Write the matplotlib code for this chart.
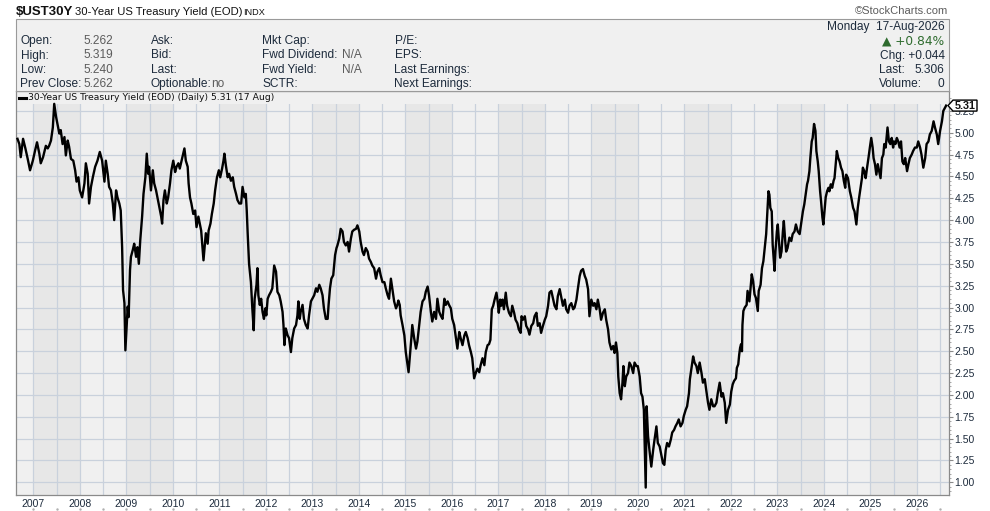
import matplotlib.pyplot as plt
from matplotlib.patches import Rectangle, Polygon
from matplotlib.lines import Line2D
from matplotlib.transforms import IdentityTransform
import numpy as np

# 30-year treasury yield (decimal year, yield %)
dates = [
    2006.66, 2006.70, 2006.73, 2006.78, 2006.83, 2006.88, 2006.93, 2006.99, 2007.04, 2007.08,
    2007.13, 2007.16, 2007.21, 2007.27, 2007.31, 2007.34, 2007.38, 2007.42, 2007.45, 2007.49,
    2007.52, 2007.56, 2007.59, 2007.63, 2007.67, 2007.70, 2007.74, 2007.77, 2007.81, 2007.86,
    2007.90, 2007.93, 2007.97, 2008.00, 2008.05, 2008.10, 2008.13, 2008.17, 2008.20, 2008.24,
    2008.28, 2008.33, 2008.38, 2008.43, 2008.48, 2008.51, 2008.53, 2008.56, 2008.60, 2008.63,
    2008.67, 2008.71, 2008.74, 2008.78, 2008.81, 2008.85, 2008.88, 2008.91, 2008.93, 2008.96,
    2008.98, 2009.01, 2009.03, 2009.05, 2009.08, 2009.10, 2009.14, 2009.17, 2009.21, 2009.24,
    2009.27, 2009.30, 2009.34, 2009.37, 2009.41, 2009.44, 2009.47, 2009.49, 2009.53, 2009.57,
    2009.60, 2009.64, 2009.67, 2009.71, 2009.75, 2009.77, 2009.80, 2009.83, 2009.87, 2009.90,
    2009.94, 2009.97, 2010.01, 2010.05, 2010.08, 2010.12, 2010.15, 2010.19, 2010.25, 2010.28,
    2010.32, 2010.34, 2010.37, 2010.40, 2010.44, 2010.48, 2010.51, 2010.55, 2010.58, 2010.61,
    2010.66, 2010.68, 2010.71, 2010.75, 2010.77, 2010.81, 2010.84, 2010.88, 2010.91, 2010.95,
    2010.99, 2011.02, 2011.06, 2011.09, 2011.11, 2011.14, 2011.18, 2011.21, 2011.25, 2011.29,
    2011.32, 2011.36, 2011.39, 2011.43, 2011.47, 2011.50, 2011.54, 2011.57, 2011.59, 2011.61,
    2011.64, 2011.68, 2011.71, 2011.74, 2011.76, 2011.80, 2011.82, 2011.84, 2011.87, 2011.90,
    2011.93, 2011.96, 2011.99, 2012.01, 2012.04, 2012.07, 2012.11, 2012.14, 2012.18, 2012.22,
    2012.25, 2012.29, 2012.32, 2012.36, 2012.38, 2012.40, 2012.43, 2012.47, 2012.50, 2012.54,
    2012.57, 2012.61, 2012.65, 2012.68, 2012.70, 2012.73, 2012.75, 2012.79, 2012.82, 2012.86,
    2012.90, 2012.93, 2012.97, 2013.00, 2013.04, 2013.08, 2013.11, 2013.15, 2013.18, 2013.22,
    2013.25, 2013.29, 2013.33, 2013.35, 2013.38, 2013.41, 2013.45, 2013.47, 2013.49, 2013.52,
    2013.54, 2013.58, 2013.61, 2013.65, 2013.68, 2013.72, 2013.76, 2013.79, 2013.83, 2013.86,
    2013.90, 2013.94, 2013.97, 2014.01, 2014.04, 2014.08, 2014.11, 2014.15, 2014.19, 2014.22,
    2014.26, 2014.29, 2014.33, 2014.37, 2014.40, 2014.44, 2014.47, 2014.51, 2014.55, 2014.58,
    2014.62, 2014.65, 2014.69, 2014.72, 2014.76, 2014.80, 2014.83, 2014.85, 2014.88, 2014.90,
    2014.94, 2014.98, 2015.01, 2015.05, 2015.07, 2015.10, 2015.13, 2015.15, 2015.19, 2015.23,
    2015.26, 2015.30, 2015.33, 2015.37, 2015.41, 2015.44, 2015.48, 2015.51, 2015.55, 2015.58,
    2015.62, 2015.66, 2015.69, 2015.73, 2015.76, 2015.80, 2015.84, 2015.87, 2015.91, 2015.94,
    2015.98, 2016.01, 2016.05, 2016.09, 2016.12, 2016.16, 2016.19, 2016.23, 2016.27, 2016.30,
    2016.34, 2016.37, 2016.41, 2016.44, 2016.48, 2016.52, 2016.55, 2016.59, 2016.62, 2016.66,
    2016.70, 2016.73, 2016.77, 2016.80, 2016.83, 2016.86, 2016.89, 2016.92, 2016.96, 2016.99,
    2017.01, 2017.04, 2017.06, 2017.09, 2017.12, 2017.16, 2017.19, 2017.23, 2017.27, 2017.30,
    2017.34, 2017.37, 2017.41, 2017.44, 2017.48, 2017.50, 2017.53, 2017.57, 2017.60, 2017.64,
    2017.67, 2017.71, 2017.75, 2017.78, 2017.82, 2017.85, 2017.89, 2017.92, 2017.96, 2018.00,
    2018.03, 2018.07, 2018.10, 2018.14, 2018.18, 2018.21, 2018.25, 2018.28, 2018.32, 2018.35,
    2018.39, 2018.43, 2018.46, 2018.50, 2018.53, 2018.57, 2018.61, 2018.64, 2018.68, 2018.71,
    2018.75, 2018.78, 2018.82, 2018.86, 2018.89, 2018.93, 2018.96, 2019.00, 2019.04, 2019.07,
    2019.11, 2019.14, 2019.18, 2019.21, 2019.25, 2019.29, 2019.32, 2019.36, 2019.39, 2019.43,
    2019.47, 2019.50, 2019.53, 2019.56, 2019.58, 2019.61, 2019.64, 2019.67, 2019.69, 2019.72,
    2019.75, 2019.79, 2019.82, 2019.86, 2019.90, 2019.93, 2019.97, 2020.00, 2020.04, 2020.07,
    2020.10, 2020.13, 2020.15, 2020.17, 2020.19, 2020.22, 2020.25, 2020.29, 2020.33, 2020.36,
    2020.40, 2020.43, 2020.47, 2020.51, 2020.54, 2020.57, 2020.60, 2020.63, 2020.67, 2020.71,
    2020.74, 2020.78, 2020.81, 2020.85, 2020.88, 2020.92, 2020.96, 2020.99, 2021.03, 2021.06,
    2021.10, 2021.12, 2021.15, 2021.19, 2021.22, 2021.26, 2021.29, 2021.33, 2021.37, 2021.40,
    2021.44, 2021.47, 2021.51, 2021.54, 2021.58, 2021.62, 2021.65, 2021.69, 2021.72, 2021.76,
    2021.80, 2021.83, 2021.87, 2021.90, 2021.94, 2021.98, 2022.01, 2022.04, 2022.07, 2022.11,
    2022.13, 2022.16, 2022.18, 2022.20, 2022.22, 2022.24, 2022.25, 2022.27, 2022.30, 2022.34,
    2022.36, 2022.40, 2022.43, 2022.45, 2022.48, 2022.51, 2022.54, 2022.58, 2022.60, 2022.64,
    2022.67, 2022.70, 2022.73, 2022.76, 2022.78, 2022.81, 2022.83, 2022.85, 2022.88, 2022.90,
    2022.92, 2022.94, 2022.96, 2022.99, 2023.01, 2023.03, 2023.06, 2023.09, 2023.12, 2023.14,
    2023.17, 2023.19, 2023.22, 2023.26, 2023.30, 2023.33, 2023.37, 2023.40, 2023.44, 2023.48,
    2023.51, 2023.55, 2023.58, 2023.62, 2023.64, 2023.66, 2023.69, 2023.71, 2023.74, 2023.76,
    2023.79, 2023.82, 2023.84, 2023.87, 2023.89, 2023.92, 2023.94, 2023.97, 2023.99, 2024.02,
    2024.04, 2024.07, 2024.10, 2024.12, 2024.15, 2024.18, 2024.21, 2024.23, 2024.25, 2024.28,
    2024.31, 2024.34, 2024.37, 2024.40, 2024.43, 2024.46, 2024.48, 2024.52, 2024.56, 2024.59,
    2024.63, 2024.66, 2024.70, 2024.73, 2024.76, 2024.79, 2024.82, 2024.84, 2024.87, 2024.90,
    2024.93, 2024.96, 2024.99, 2025.02, 2025.05, 2025.07, 2025.10, 2025.13, 2025.16, 2025.19,
    2025.22, 2025.25, 2025.28, 2025.30, 2025.33, 2025.37, 2025.40, 2025.43, 2025.46, 2025.49,
    2025.51, 2025.54, 2025.57, 2025.60, 2025.63, 2025.66, 2025.69, 2025.72, 2025.75, 2025.79,
    2025.82, 2025.85, 2025.89, 2025.92, 2025.96, 2026.00, 2026.03, 2026.07, 2026.10, 2026.14,
    2026.18, 2026.21, 2026.25, 2026.28, 2026.32, 2026.36, 2026.39, 2026.43, 2026.46, 2026.50,
    2026.54, 2026.57, 2026.61, 2026.63,
]
yields = [
    4.93, 4.87, 4.72, 4.93, 4.82, 4.70, 4.57, 4.68, 4.80, 4.89,
    4.76, 4.65, 4.72, 4.85, 4.82, 4.85, 4.91, 5.06, 5.33, 5.18,
    5.10, 4.99, 5.03, 4.87, 4.95, 4.74, 4.91, 4.84, 4.70, 4.68,
    4.57, 4.44, 4.49, 4.34, 4.26, 4.42, 4.65, 4.53, 4.19, 4.38,
    4.49, 4.61, 4.68, 4.78, 4.68, 4.53, 4.44, 4.68, 4.53, 4.38,
    4.34, 4.19, 4.00, 4.34, 4.26, 4.19, 4.11, 3.69, 3.20, 3.05,
    2.51, 2.82, 3.01, 2.89, 3.43, 3.58, 3.66, 3.73, 3.58, 3.69,
    3.50, 3.77, 4.04, 4.30, 4.49, 4.76, 4.53, 4.61, 4.34, 4.57,
    4.42, 4.34, 4.26, 4.15, 4.04, 3.96, 4.23, 4.34, 4.19, 4.26,
    4.42, 4.57, 4.68, 4.55, 4.61, 4.65, 4.59, 4.68, 4.82, 4.68,
    4.61, 4.42, 4.26, 4.19, 4.07, 4.11, 3.92, 4.04, 3.96, 3.88,
    3.54, 3.66, 3.85, 3.73, 3.88, 3.96, 4.07, 4.19, 4.34, 4.49,
    4.57, 4.49, 4.59, 4.68, 4.76, 4.63, 4.49, 4.53, 4.45, 4.49,
    4.38, 4.30, 4.23, 4.19, 4.19, 4.38, 4.26, 4.30, 4.11, 3.85,
    3.50, 3.29, 2.99, 2.74, 3.10, 3.26, 3.45, 3.14, 3.03, 3.10,
    2.95, 2.87, 2.99, 2.91, 3.10, 3.14, 3.18, 3.22, 3.48, 3.41,
    3.18, 3.14, 3.07, 2.95, 2.80, 2.57, 2.76, 2.68, 2.65, 2.49,
    2.65, 2.76, 2.80, 2.91, 3.07, 2.87, 2.95, 3.03, 2.87, 2.80,
    2.76, 2.91, 3.07, 3.10, 3.14, 3.22, 3.18, 3.26, 3.22, 3.14,
    2.99, 2.87, 2.87, 3.03, 3.22, 3.33, 3.37, 3.48, 3.60, 3.68,
    3.71, 3.79, 3.90, 3.87, 3.75, 3.71, 3.75, 3.64, 3.79, 3.87,
    3.89, 3.90, 3.94, 3.87, 3.75, 3.64, 3.60, 3.68, 3.64, 3.56,
    3.52, 3.48, 3.45, 3.33, 3.41, 3.45, 3.37, 3.29, 3.29, 3.22,
    3.14, 3.10, 3.33, 3.22, 3.07, 2.99, 3.03, 3.08, 3.03, 2.91,
    2.80, 2.68, 2.49, 2.34, 2.26, 2.45, 2.65, 2.80, 2.65, 2.53,
    2.61, 2.80, 2.95, 3.07, 3.10, 3.18, 3.24, 3.14, 2.95, 2.84,
    2.95, 2.87, 3.10, 2.95, 2.91, 2.87, 3.10, 3.03, 3.07, 3.03,
    2.99, 2.87, 2.80, 2.65, 2.53, 2.72, 2.65, 2.57, 2.68, 2.72,
    2.65, 2.57, 2.49, 2.42, 2.19, 2.26, 2.30, 2.26, 2.34, 2.42,
    2.34, 2.49, 2.57, 2.58, 2.63, 2.98, 3.02, 3.09, 3.17, 3.05,
    2.94, 3.09, 3.02, 3.09, 2.98, 3.17, 3.02, 2.94, 2.90, 3.02,
    2.94, 2.86, 2.82, 2.75, 2.71, 2.90, 2.86, 2.90, 2.79, 2.75,
    2.69, 2.79, 2.82, 2.90, 2.94, 2.79, 2.82, 2.71, 2.79, 2.86,
    2.90, 3.02, 3.17, 3.19, 3.09, 3.02, 2.98, 3.13, 3.21, 3.13,
    3.02, 3.09, 2.98, 2.94, 3.02, 3.05, 2.98, 3.00, 3.09, 3.21,
    3.36, 3.42, 3.44, 3.36, 3.32, 3.21, 2.90, 3.09, 3.02, 3.05,
    2.98, 3.09, 2.98, 2.86, 2.94, 2.98, 2.86, 2.75, 2.60, 2.52,
    2.56, 2.48, 2.60, 2.48, 2.21, 2.02, 1.95, 2.14, 2.33, 2.10,
    2.21, 2.25, 2.37, 2.33, 2.25, 2.37, 2.33, 2.33, 2.21, 2.02,
    1.98, 1.83, 1.37, 0.94, 1.87, 1.53, 1.37, 1.18, 1.37, 1.49,
    1.64, 1.45, 1.41, 1.30, 1.22, 1.20, 1.37, 1.45, 1.41, 1.49,
    1.57, 1.60, 1.64, 1.68, 1.72, 1.64, 1.68, 1.76, 1.83, 1.87,
    2.02, 2.18, 2.29, 2.44, 2.37, 2.33, 2.25, 2.37, 2.25, 2.14,
    2.18, 2.06, 1.91, 1.83, 1.95, 1.87, 1.87, 1.91, 2.02, 2.14,
    1.98, 2.02, 1.91, 1.68, 1.83, 1.89, 2.04, 2.12, 2.16, 2.19,
    2.31, 2.35, 2.46, 2.54, 2.58, 2.50, 2.80, 2.96, 3.00, 3.03,
    3.19, 3.07, 3.26, 3.38, 3.30, 3.15, 3.11, 2.96, 3.19, 3.26,
    3.45, 3.53, 3.68, 3.84, 4.03, 4.33, 4.29, 4.14, 4.10, 3.72,
    3.57, 3.42, 3.64, 3.87, 3.95, 3.80, 3.57, 3.64, 3.87, 3.99,
    3.76, 3.64, 3.68, 3.80, 3.76, 3.84, 3.87, 3.95, 3.87, 3.84,
    3.95, 4.10, 4.18, 4.33, 4.41, 4.45, 4.56, 4.71, 4.90, 4.94,
    5.10, 5.02, 4.79, 4.67, 4.56, 4.33, 4.22, 4.03, 3.95, 4.14,
    4.26, 4.33, 4.37, 4.33, 4.41, 4.37, 4.45, 4.48, 4.60, 4.79,
    4.71, 4.67, 4.60, 4.56, 4.45, 4.37, 4.52, 4.48, 4.33, 4.26,
    4.14, 4.10, 3.95, 4.14, 4.26, 4.37, 4.48, 4.60, 4.56, 4.48,
    4.60, 4.71, 4.83, 4.94, 4.83, 4.71, 4.64, 4.52, 4.64, 4.56,
    4.48, 4.71, 4.75, 4.87, 4.83, 5.06, 4.90, 4.87, 4.94, 4.83,
    4.90, 4.87, 4.94, 4.90, 4.83, 4.90, 4.67, 4.64, 4.71, 4.56,
    4.64, 4.71, 4.75, 4.79, 4.83, 4.83, 4.90, 4.83, 4.75, 4.60,
    4.71, 4.87, 4.90, 4.98, 5.02, 5.13, 5.06, 4.98, 4.87, 5.02,
    5.13, 5.25, 5.29, 5.31,
]

year_labels = list(range(2007, 2027))
y_ticks = np.arange(1.0, 5.26, 0.25)

header_left = [
    ("Open:", "5.262"), ("High:", "5.319"), ("Low:", "5.240"), ("Prev Close:", "5.262"),
]
header_mid = [("Ask:", ""), ("Bid:", ""), ("Last:", ""), ("Optionable:", "no")]
header_mid2 = [("Mkt Cap:", ""), ("Fwd Dividend:", "N/A"), ("Fwd Yield:", "N/A"), ("SCTR:", "")]
header_right = ["P/E:", "EPS:", "Last Earnings:", "Next Earnings:"]
last_value = "5.31"

W, H = 990, 511
NAVY = '#1d2b3c'
GRAY = '#5c5c5c'
plt.rcParams['font.family'] = ['Liberation Sans', 'DejaVu Sans']


def fx(px):
    return px / W


def fy(py):
    return 1 - py / H


fig = plt.figure(figsize=(W / 100, H / 100), dpi=100)
fig.patch.set_facecolor('white')

# header box with quote details
fig.add_artist(Rectangle((fx(16), fy(91)), fx(933), 72 / H, transform=fig.transFigure,
                         facecolor='#f0f0f0', edgecolor='#9a9a9a', lw=0.8))

fig.text(fx(16), fy(12), "$UST30Y", fontsize=9.5, fontweight='bold', color='#111',
         va='center')
fig.text(fx(75), fy(12), "30-Year US Treasury Yield (EOD)", fontsize=8.1, color='#111',
         va='center')
fig.text(fx(243), fy(12.5), "INDX", fontsize=6.6, color='#111', va='center')
fig.text(fx(948), fy(11.5), "\u00a9StockCharts.com", fontsize=8, color=GRAY,
         va='center', ha='right')

rows = [41, 55.5, 70, 84]
for i, y in enumerate(rows):
    lab, val = header_left[i]
    fig.text(fx(20.5), fy(y), lab, fontsize=8.6, color=NAVY, va='center')
    fig.text(fx(83.5), fy(y), val, fontsize=8.6, color=GRAY, va='center')
    lab, val = header_mid[i]
    fig.text(fx(150.5), fy(y), lab, fontsize=8.6, color=NAVY, va='center')
    fig.text(fx(211), fy(y), val, fontsize=8.6, color=GRAY, va='center')
    lab, val = header_mid2[i]
    fig.text(fx(262.5), fy(y), lab, fontsize=8.6, color=NAVY, va='center')
    fig.text(fx(342), fy(y), val, fontsize=8.6, color=GRAY, va='center')
    fig.text(fx(394.5), fy(y), header_right[i], fontsize=8.6, color=NAVY, va='center')

fig.text(fx(944.5), fy(27), "Monday  17-Aug-2026", fontsize=8.6, color=NAVY,
         va='center', ha='right')
fig.text(fx(944.5), fy(41.5), "\u25b2 +0.84%", fontsize=8.8, color='#2e6b2e',
         va='center', ha='right', family=['DejaVu Sans'])
fig.text(fx(944.5), fy(55.5), "Chg: +0.044", fontsize=8.6, color=NAVY, va='center', ha='right')
fig.text(fx(879), fy(70), "Last:", fontsize=8.6, color=NAVY, va='center')
fig.text(fx(944.5), fy(70), "5.306", fontsize=8.6, color=NAVY, va='center', ha='right')
fig.text(fx(879), fy(84), "Volume:", fontsize=8.6, color=NAVY, va='center')
fig.text(fx(944.5), fy(84), "0", fontsize=8.6, color=NAVY, va='center', ha='right')

# price panel
ax = fig.add_axes([fx(16), fy(495), fx(933), 404 / H])
ax.set_facecolor('#f0f0f0')
ax.set_axisbelow(True)
for yr in range(2007, 2027, 2):
    ax.axvspan(yr, yr + 1, color='#e7e7e7', lw=0, zorder=0)

ax.plot(dates, yields, color='black', lw=1.7, zorder=3)

ax.set_xlim(2006.628, 2026.692)
ax.set_ylim(0.855, 5.477)

ax.set_xticks(year_labels)
ax.set_xticklabels([str(y) for y in year_labels])
ax.set_xticks(np.arange(2007.5, 2026.6, 1.0), minor=True)
ax.tick_params(axis='x', which='both', length=0, pad=3, labelsize=7.5, labelcolor=NAVY)
ax.grid(True, axis='x', which='both', color='#c9d1dc', lw=0.9)

ax.yaxis.tick_right()
ax.set_yticks(y_ticks)
ax.set_yticklabels(['%.2f' % v for v in y_ticks])
ax.set_yticks(np.arange(0.9, 5.45, 0.05), minor=True)
ax.tick_params(axis='y', which='major', length=3, width=0.8, color='#8a8a8a', pad=1,
               labelsize=7.5, labelcolor=NAVY)
ax.tick_params(axis='y', which='minor', length=1.5, width=0.6, color='#9a9a9a')
ax.grid(True, axis='y', which='major', color='#c9d1dc', lw=0.9)

for side in ['left', 'bottom', 'right', 'top']:
    ax.spines[side].set_color('#8a8a8a')
    ax.spines[side].set_linewidth(0.9)

# small dots under the time axis
dot_x = np.arange(2007.0, 2026.6, 0.5)
ax.plot(dot_x, [-0.035] * len(dot_x), ls='none', marker='s', ms=0.7, color='#b0b0b0',
        transform=ax.get_xaxis_transform(), clip_on=False)

# legend strip
ax.add_patch(Rectangle((0, 1 - 13 / 404), 1, 13 / 404, transform=ax.transAxes,
                       facecolor='#f0f0f0', edgecolor='none', zorder=2))
fig.add_artist(Line2D([fx(19), fx(25.5)], [fy(98)] * 2, color='black', lw=2.2))
fig.text(fx(28.5), fy(98), "30-Year US Treasury Yield (EOD) (Daily) 5.31 (17 Aug)",
         fontsize=6.7, color='#111', va='center', family=['DejaVu Sans'])

# last value tag on the right axis (it covers the 5.25 label, as in the original)
fig.canvas.draw()
xr, yc = ax.transData.transform((2026.692, yields[-1]))
tag = Polygon([(xr - 1, yc), (xr + 4, yc + 5.5), (xr + 28, yc + 5.5),
               (xr + 28, yc - 5.5), (xr + 4, yc - 5.5)], closed=True,
              transform=IdentityTransform(), facecolor='white', edgecolor='black',
              lw=1.0, zorder=10)
fig.add_artist(tag)
fig.text((xr + 16.5) / W, yc / H, last_value, fontsize=7.8, fontweight='bold',
         color='#111', ha='center', va='center', zorder=11)

fig.savefig('out.png', dpi=100)
